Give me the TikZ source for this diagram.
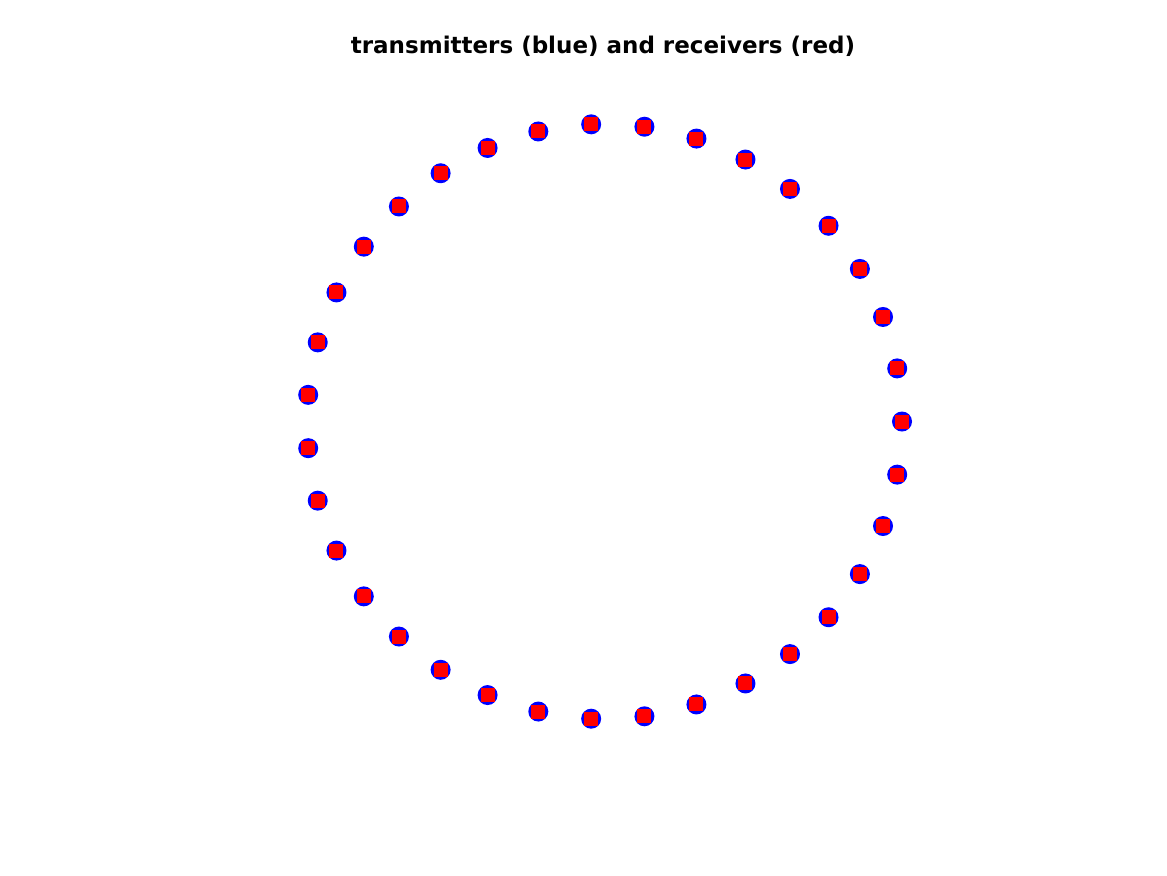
\documentclass[tikz,border=0pt]{standalone}
\usepackage{fontspec}
\setmainfont{DejaVu Sans}
\begin{document}
\begin{tikzpicture}[x=0.5pt,y=-0.5pt,
  tx/.style={circle,fill=blue,draw=none,minimum size=10pt,inner sep=0pt},
  rx/.style={rectangle,fill=red,draw=none,minimum size=7pt,inner sep=0pt}]
\useasboundingbox (0,0) rectangle (1167,875);
\node[font=\bfseries\fontsize{11.5}{13}\selectfont] (title) at (603,46) {transmitters (blue) and receivers (red)};
\foreach \i in {0,...,34}{
  \pgfmathsetmacro{\a}{\i*360/35}
  \node[tx] (t\i) at ({604.5+297.5*cos(\a)},{421.5-297.5*sin(\a)}) {};
  \node[rx] (r\i) at (t\i) {};
}
\end{tikzpicture}
\end{document}
